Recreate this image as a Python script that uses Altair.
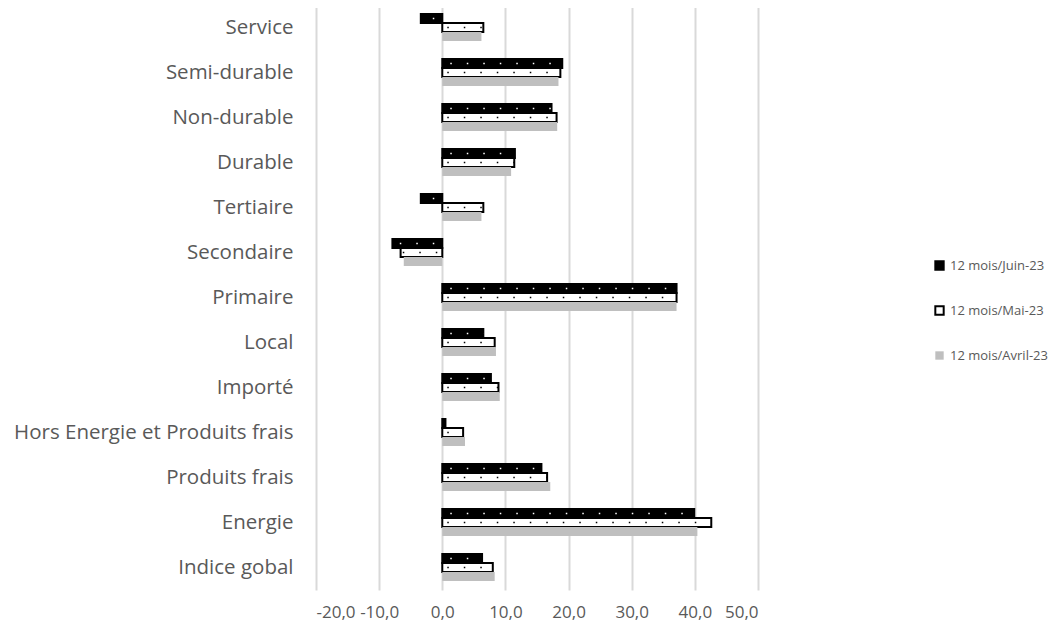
import altair as alt
import pandas as pd

categories = ["Service", "Semi-durable", "Non-durable", "Durable", "Tertiaire",
              "Secondaire", "Primaire", "Local", "Importé",
              "Hors Energie et Produits frais", "Produits frais", "Energie",
              "Indice gobal"]
series = ["12 mois/Juin-23", "12 mois/Mai-23", "12 mois/Avril-23"]
juin = [-3.4, 19.0, 17.3, 11.5, -3.4, -7.9, 37.1, 6.5, 7.7, 0.5, 15.7, 39.9, 6.3]
mai = [6.5, 18.7, 18.1, 11.4, 6.5, -6.6, 37.1, 8.3, 8.9, 3.3, 16.6, 42.6, 8.0]
avril = [6.2, 18.4, 18.2, 10.9, 6.2, -6.1, 37.1, 8.5, 9.1, 3.6, 17.1, 40.4, 8.3]
x_ticks = [-20, -10, 0, 10, 20, 30, 40, 50]

rows = []
for name, vals in zip(series, [juin, mai, avril]):
    for c, v in zip(categories, vals):
        rows.append({"cat": c, "serie": name, "val": v, "zero": 0})
df = pd.DataFrame(rows)

FONT = "Open Sans"
GREY = "#595959"

legend_kw = dict(title=None, orient="none", legendX=617, legendY=254,
                 symbolType="square", symbolSize=70,
                 labelFontSize=13, labelColor=GREY, labelFont=FONT,
                 rowPadding=28, symbolStrokeWidth=2, labelOffset=4)

y_enc = alt.Y("cat:N", sort=categories, title=None,
              scale=alt.Scale(paddingInner=0.4, paddingOuter=0.2),
              axis=alt.Axis(domain=False, ticks=False, labelFontSize=20.5,
                            labelColor=GREY, labelFont=FONT, labelPadding=23,
                            labelLimit=400))
yoff_enc = alt.YOffset("serie:N", sort=series,
                       scale=alt.Scale(domain=series, paddingInner=0, paddingOuter=0))
x_enc = alt.X("val:Q", title=None,
              scale=alt.Scale(domain=[-20, 50], nice=False, zero=False),
              axis=alt.Axis(values=x_ticks, domain=False, ticks=False, grid=True,
                            gridColor="#d9d9d9", gridWidth=2, labelOverlap=False,
                            labelFontSize=17, labelColor=GREY, labelFont=FONT,
                            labelPadding=14,
                            labelExpr="(datum.value < 0 ? '-' : '') + replace(format(abs(datum.value), '.1f'), '.', ',')"))

base = alt.Chart(df)

bars = base.mark_bar(strokeWidth=2).encode(
    y=y_enc, yOffset=yoff_enc, x=x_enc,
    fill=alt.Fill("serie:N", sort=series,
                  scale=alt.Scale(domain=series, range=["#000000", "#ffffff", "#bfbfbf"]),
                  legend=alt.Legend(**legend_kw)),
    stroke=alt.Stroke("serie:N", sort=series,
                      scale=alt.Scale(domain=series, range=["#000000", "#000000", "transparent"]),
                      legend=alt.Legend(**legend_kw)),
)

dots_juin = base.transform_filter(alt.datum.serie == series[0]).mark_rule(
    color="white", strokeWidth=1.5, strokeDash=[1.5, 15], strokeDashOffset=-8
).encode(y=y_enc, yOffset=yoff_enc, x="zero:Q", x2="val:Q")

dots_mai = base.transform_filter(alt.datum.serie == series[1]).mark_rule(
    color="black", strokeWidth=1.5, strokeDash=[1.5, 15], strokeDashOffset=-5
).encode(y=y_enc, yOffset=yoff_enc, x="zero:Q", x2="val:Q")

chart = alt.layer(bars, dots_juin, dots_mai).properties(
    width=442, height=585, padding={"top": -3, "left": 5, "right": 5, "bottom": 5}
).configure_view(stroke=None)

chart.save("out.html", embed_options={"renderer": "svg", "actions": False})
